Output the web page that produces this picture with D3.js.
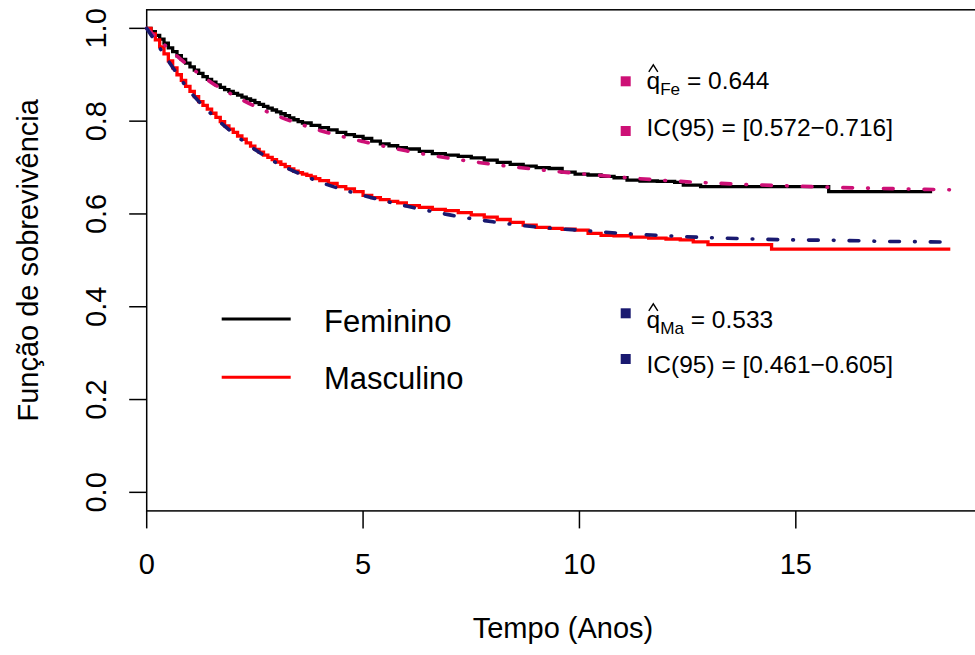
<!DOCTYPE html>
<html>
<head>
<meta charset="utf-8">
<script src="https://cdn.jsdelivr.net/npm/d3@7"></script>
<style>
  html, body { margin: 0; padding: 0; background: #fff; }
  svg { display: block; }
  text { font-family: "Liberation Sans", Arial, Helvetica, sans-serif; fill: #000; }
</style>
</head>
<body>
<svg id="chart" width="975" height="655"></svg>
<script>
// ---- Data ----
const xTicks = [0, 5, 10, 15];
const yTicks = [0.0, 0.2, 0.4, 0.6, 0.8, 1.0];
const yTickLabels = ["0.0", "0.2", "0.4", "0.6", "0.8", "1.0"];

// Kaplan-Meier estimates (time in years, survival)
const femTime = [0,0.1,0.2,0.3,0.4,0.5,0.6,0.7,0.8,0.9,1.0,1.1,1.2,1.3,1.4,1.5,1.6,1.7,1.8,1.9,2.0,2.1,2.2,2.3,2.4,2.5,2.6,2.7,2.8,2.9,3.0,3.1,3.2,3.3,3.4,3.5,3.6,3.8,4.0,4.2,4.4,4.6,4.8,5.0,5.2,5.4,5.6,5.8,6.0,6.3,6.6,6.9,7.2,7.5,7.8,8.1,8.4,8.7,9.0,9.3,9.6,9.9,10.2,10.5,10.8,11.1,11.4,11.8,12.2,12.4,12.8,15.76,18.15];
const femSurv = [1.000,0.993,0.985,0.977,0.968,0.958,0.950,0.941,0.933,0.925,0.917,0.910,0.903,0.896,0.890,0.884,0.878,0.873,0.868,0.864,0.860,0.856,0.852,0.848,0.845,0.840,0.836,0.832,0.828,0.824,0.820,0.816,0.812,0.807,0.803,0.799,0.796,0.791,0.786,0.781,0.776,0.771,0.767,0.763,0.757,0.751,0.747,0.743,0.740,0.735,0.730,0.727,0.724,0.721,0.716,0.711,0.707,0.703,0.700,0.698,0.690,0.686,0.684,0.681,0.678,0.673,0.671,0.670,0.668,0.662,0.659,0.648,0.648];

const masTime = [0,0.1,0.2,0.3,0.4,0.5,0.6,0.7,0.8,0.9,1.0,1.1,1.2,1.3,1.4,1.5,1.6,1.7,1.8,1.9,2.0,2.1,2.2,2.3,2.4,2.5,2.6,2.7,2.8,2.9,3.0,3.1,3.2,3.3,3.4,3.5,3.6,3.7,3.8,3.9,4.0,4.2,4.4,4.6,4.8,5.0,5.2,5.4,5.6,5.8,6.0,6.3,6.6,6.9,7.2,7.5,7.8,8.1,8.4,8.7,9.0,9.3,9.6,9.9,10.2,10.5,10.8,11.2,11.6,12.0,12.33,12.63,12.97,14.44,18.57];
const masSurv = [1.000,0.988,0.975,0.960,0.945,0.930,0.915,0.900,0.888,0.875,0.864,0.853,0.842,0.834,0.826,0.817,0.808,0.799,0.790,0.783,0.776,0.768,0.761,0.753,0.746,0.739,0.733,0.727,0.722,0.717,0.712,0.707,0.702,0.697,0.692,0.689,0.686,0.683,0.680,0.676,0.672,0.666,0.659,0.654,0.648,0.640,0.635,0.631,0.627,0.624,0.618,0.614,0.610,0.607,0.603,0.598,0.593,0.588,0.582,0.576,0.571,0.569,0.567,0.565,0.558,0.554,0.553,0.550,0.548,0.546,0.544,0.540,0.534,0.524,0.524];

// Fitted cure-model curves
const fitTime = [0,0.25,0.5,1,1.5,2,2.5,3,3.5,4,5,6,7,8,9,10,11,12,13,14,15,16,17,18,18.55];
const fitFem  = [1,0.978,0.957,0.917,0.883,0.856,0.832,0.812,0.795,0.780,0.756,0.736,0.720,0.707,0.696,0.687,0.679,0.672,0.667,0.663,0.660,0.657,0.655,0.653,0.652];
const fitMas  = [1,0.965,0.930,0.864,0.815,0.774,0.739,0.710,0.688,0.669,0.640,0.617,0.598,0.583,0.572,0.565,0.558,0.553,0.549,0.546,0.544,0.543,0.541,0.540,0.539];

const legendLabels = ["Feminino", "Masculino"];
const cureFem = { sub: "Fe", est: "0.644", ic: "[0.572\u22120.716]" };
const cureMas = { sub: "Ma", est: "0.533", ic: "[0.461\u22120.605]" };

const colFem = "#000000", colMas = "#ff0000";
const colFitFem = "#CD1076", colFitMas = "#191970";

// ---- Layout ----
const svg = d3.select("#chart");
const x = d3.scaleLinear().domain([0, 19.24]).range([146.7, 979.3]);
const y = d3.scaleLinear().domain([-0.04, 1.04]).range([510.9, 9.8]);

// box
svg.append("rect")
  .attr("x", x(0)).attr("y", y(1.04))
  .attr("width", x(19.24) - x(0)).attr("height", y(-0.04) - y(1.04))
  .attr("fill", "none").attr("stroke", "#000").attr("stroke-width", 1.5);

// x axis
const xAxis = svg.append("g");
xTicks.forEach(t => {
  xAxis.append("line").attr("x1", x(t)).attr("x2", x(t))
    .attr("y1", y(-0.04)).attr("y2", y(-0.04) + 17.5)
    .attr("stroke", "#000").attr("stroke-width", 1.5);
  xAxis.append("text").attr("x", x(t)).attr("y", 574)
    .attr("text-anchor", "middle").attr("font-size", 29).text(String(t));
});
svg.append("text").attr("x", (x(0) + x(19.24)) / 2).attr("y", 638)
  .attr("text-anchor", "middle").attr("font-size", 29).text("Tempo (Anos)");

// y axis
const yAxis = svg.append("g");
yTicks.forEach((t, i) => {
  yAxis.append("line").attr("x1", x(0) - 17.5).attr("x2", x(0))
    .attr("y1", y(t)).attr("y2", y(t))
    .attr("stroke", "#000").attr("stroke-width", 1.5);
  yAxis.append("text").attr("x", 106).attr("y", y(t))
    .attr("transform", `rotate(-90, 106, ${y(t)})`)
    .attr("text-anchor", "middle").attr("font-size", 29).text(yTickLabels[i]);
});
svg.append("text").attr("x", 38).attr("y", (y(-0.04) + y(1.04)) / 2)
  .attr("transform", `rotate(-90, 38, ${(y(-0.04) + y(1.04)) / 2})`)
  .attr("text-anchor", "middle").attr("font-size", 29).text("Função de sobrevivência");

// curves
const stepLine = d3.line().x(d => x(d[0])).y(d => y(d[1])).curve(d3.curveStepAfter);
const smoothLine = d3.line().x(d => x(d[0])).y(d => y(d[1])).curve(d3.curveMonotoneX);

const dash = "9.7,15.1,0.7,15.1";
svg.append("path").datum(femTime.map((t, i) => [t, femSurv[i]]))
  .attr("d", stepLine).attr("fill", "none").attr("stroke", colFem).attr("stroke-width", 3.3);
svg.append("path").datum(masTime.map((t, i) => [t, masSurv[i]]))
  .attr("d", stepLine).attr("fill", "none").attr("stroke", colMas).attr("stroke-width", 3.3);
svg.append("path").datum(fitTime.map((t, i) => [t, fitFem[i]]))
  .attr("d", smoothLine).attr("fill", "none").attr("stroke", colFitFem).attr("stroke-width", 3.6)
  .attr("stroke-dasharray", dash).attr("stroke-linecap", "round");
svg.append("path").datum(fitTime.map((t, i) => [t, fitMas[i]]))
  .attr("d", smoothLine).attr("fill", "none").attr("stroke", colFitMas).attr("stroke-width", 3.6)
  .attr("stroke-dasharray", dash).attr("stroke-linecap", "round");

// legend (line types)
const leg = svg.append("g");
[[colFem, 319, 331.5], [colMas, 377.3, 389.3]].forEach((d, i) => {
  leg.append("line").attr("x1", 221.7).attr("x2", 290.7).attr("y1", d[1]).attr("y2", d[1])
    .attr("stroke", d[0]).attr("stroke-width", 3);
  leg.append("text").attr("x", 324).attr("y", d[2]).attr("font-size", 31).text(legendLabels[i]);
});

// cure fraction annotations
function cureBlock(info, col, sq1, sq2, base1, base2) {
  const g = svg.append("g");
  g.append("rect").attr("x", 620.7).attr("y", sq1 - 5).attr("width", 10).attr("height", 10).attr("fill", col);
  g.append("rect").attr("x", 620.7).attr("y", sq2 - 5).attr("width", 10).attr("height", 10).attr("fill", col);
  const fs = 24.5;
  const t = g.append("text").attr("x", 646.5).attr("y", base1).attr("font-size", fs);
  t.append("tspan").text("q");
  t.append("tspan").attr("font-size", fs * 0.7).attr("dy", 6).text(info.sub);
  t.append("tspan").attr("dy", -6).text(" = " + info.est);
  // circumflex accent over q
  const hx = 653.3, hy = base1 - 17.5;
  g.append("path")
    .attr("d", `M${hx - 4.5},${hy} L${hx},${hy - 7} L${hx + 4.5},${hy}`)
    .attr("fill", "none").attr("stroke", "#000").attr("stroke-width", 1.4);
  g.append("text").attr("x", 646.5).attr("y", base2).attr("font-size", fs)
    .text("IC(95) = " + info.ic);
}
cureBlock(cureFem, colFitFem, 81.3, 131, 89.3, 136);
cureBlock(cureMas, colFitMas, 313.3, 359, 328.3, 373.3);
</script>
</body>
</html>
